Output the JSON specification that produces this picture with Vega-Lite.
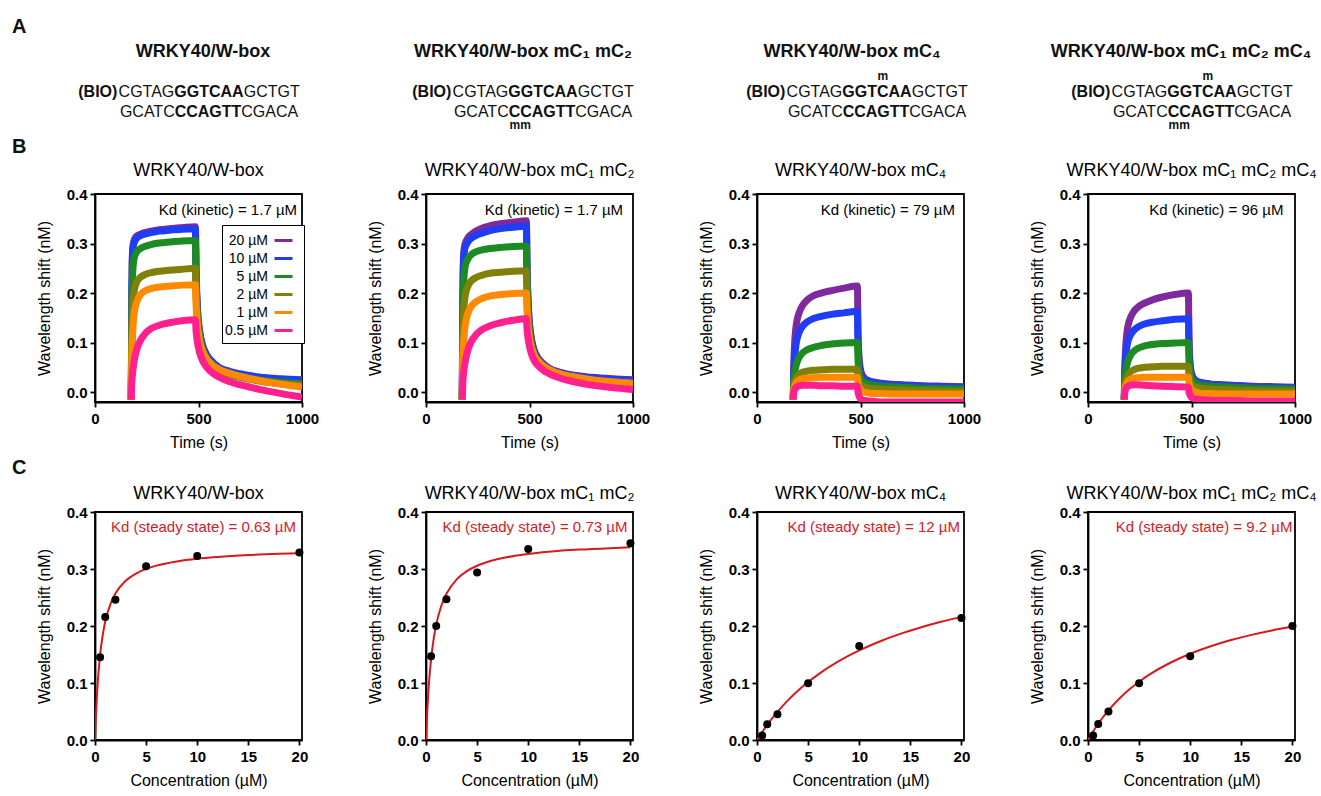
{
"$schema":"https://vega.github.io/schema/vega-lite/v6.json",
"padding":{"left":12,"top":17,"right":0,"bottom":0},
"config":{
"font":"Liberation Sans",
"view":{"stroke":"black","strokeWidth":1.8},
"axis":{"grid":false,"domainColor":"black","domainWidth":1.8,"tickColor":"black","tickWidth":1.8,"tickSize":5,"labelFontSize":15,"labelFontWeight":"bold","labelColor":"black","labelFlush":false,"labelOverlap":false,"titleFontSize":16,"titleFontWeight":"normal","titleColor":"black"},
"axisX":{"labelPadding":4,"titlePadding":8},
"axisY":{"labelPadding":3,"titlePadding":14},
"title":{"fontSize":18,"fontWeight":"normal","color":"black"}
},
"datasets":{
"rowA":[
{"p":"p1","title":"WRKY40/W-box","s1":"(BIO)","s2":"CGTAG","s3":"GGTCAA","s4":"GCTGT","t1":"GCATC","t2":"CCAGTT","t3":"CGACA","mtop":"","mbot":""},
{"p":"p2","title":"WRKY40/W-box mC₁ mC₂","s1":"(BIO)","s2":"CGTAG","s3":"GGTCAA","s4":"GCTGT","t1":"GCATC","t2":"CCAGTT","t3":"CGACA","mtop":"","mbot":"mm"},
{"p":"p3","title":"WRKY40/W-box mC₄","s1":"(BIO)","s2":"CGTAG","s3":"GGTCAA","s4":"GCTGT","t1":"GCATC","t2":"CCAGTT","t3":"CGACA","mtop":"m","mbot":""},
{"p":"p4","title":"WRKY40/W-box mC₁ mC₂ mC₄","s1":"(BIO)","s2":"CGTAG","s3":"GGTCAA","s4":"GCTGT","t1":"GCATC","t2":"CCAGTT","t3":"CGACA","mtop":"m","mbot":"mm"}
],
"kin":[
{"p":"B1","c":"20 µM","t":[175,178,182,188,195,205,220,240,270,310,360,420,485,488,495,505,520,540,570,600,650,700,800,900,1000],"y":[-0.015,0.2,0.29,0.305,0.312,0.316,0.319,0.322,0.325,0.328,0.33,0.332,0.334,0.25,0.165,0.12,0.09,0.072,0.058,0.048,0.04,0.035,0.028,0.025,0.023]},
{"p":"B1","c":"10 µM","t":[175,178,182,188,195,205,220,240,270,310,360,420,485,488,495,505,520,540,570,600,650,700,800,900,1000],"y":[-0.015,0.19,0.285,0.3,0.307,0.312,0.316,0.319,0.322,0.325,0.327,0.329,0.33,0.25,0.17,0.125,0.095,0.075,0.06,0.05,0.042,0.037,0.03,0.027,0.025]},
{"p":"B1","c":"5 µM","t":[175,178,182,188,195,205,220,240,270,310,360,420,485,488,495,505,520,540,570,600,650,700,800,900,1000],"y":[-0.015,0.15,0.24,0.268,0.278,0.285,0.29,0.294,0.298,0.301,0.303,0.305,0.306,0.23,0.155,0.115,0.085,0.068,0.053,0.044,0.036,0.031,0.024,0.02,0.017]},
{"p":"B1","c":"2 µM","t":[175,178,182,188,195,205,220,240,270,310,360,420,485,488,495,505,520,540,570,600,650,700,800,900,1000],"y":[-0.015,0.1,0.17,0.2,0.215,0.225,0.232,0.237,0.241,0.244,0.246,0.248,0.25,0.2,0.14,0.105,0.08,0.063,0.05,0.042,0.035,0.03,0.022,0.017,0.014]},
{"p":"B1","c":"1 µM","t":[175,178,182,188,195,205,220,240,270,310,360,420,485,488,495,505,520,540,570,600,650,700,800,900,1000],"y":[-0.015,0.07,0.12,0.155,0.172,0.186,0.197,0.204,0.209,0.212,0.214,0.216,0.217,0.18,0.135,0.105,0.083,0.067,0.054,0.046,0.038,0.032,0.023,0.016,0.01]},
{"p":"B1","c":"0.5 µM","t":[175,178,182,188,195,205,220,240,270,310,360,420,485,488,495,505,520,540,570,600,650,700,800,900,1000],"y":[-0.015,0.02,0.04,0.06,0.075,0.09,0.105,0.117,0.128,0.135,0.14,0.144,0.146,0.125,0.1,0.08,0.063,0.05,0.038,0.03,0.021,0.015,0.005,-0.003,-0.01]},
{"p":"B2","c":"20 µM","t":[175,178,182,188,195,205,220,240,270,310,360,420,485,488,495,505,520,540,570,600,650,700,800,900,1000],"y":[-0.015,0.19,0.28,0.298,0.306,0.313,0.319,0.325,0.331,0.336,0.34,0.343,0.346,0.26,0.17,0.12,0.088,0.07,0.056,0.047,0.04,0.035,0.03,0.027,0.025]},
{"p":"B2","c":"10 µM","t":[175,178,182,188,195,205,220,240,270,310,360,420,485,488,495,505,520,540,570,600,650,700,800,900,1000],"y":[-0.015,0.18,0.27,0.29,0.298,0.305,0.311,0.316,0.321,0.326,0.33,0.333,0.335,0.25,0.165,0.117,0.086,0.068,0.055,0.046,0.039,0.034,0.029,0.026,0.024]},
{"p":"B2","c":"5 µM","t":[175,178,182,188,195,205,220,240,270,310,360,420,485,488,495,505,520,540,570,600,650,700,800,900,1000],"y":[-0.015,0.14,0.22,0.25,0.262,0.271,0.278,0.283,0.287,0.29,0.292,0.294,0.295,0.22,0.15,0.108,0.08,0.063,0.05,0.042,0.035,0.03,0.024,0.02,0.017]},
{"p":"B2","c":"2 µM","t":[175,178,182,188,195,205,220,240,270,310,360,420,485,488,495,505,520,540,570,600,650,700,800,900,1000],"y":[-0.015,0.1,0.16,0.19,0.205,0.216,0.225,0.231,0.236,0.24,0.242,0.244,0.245,0.19,0.135,0.1,0.076,0.061,0.049,0.041,0.034,0.029,0.022,0.018,0.015]},
{"p":"B2","c":"1 µM","t":[175,178,182,188,195,205,220,240,270,310,360,420,485,488,495,505,520,540,570,600,650,700,800,900,1000],"y":[-0.015,0.06,0.1,0.13,0.148,0.162,0.174,0.182,0.189,0.194,0.197,0.199,0.2,0.165,0.125,0.098,0.078,0.064,0.052,0.045,0.037,0.032,0.025,0.021,0.018]},
{"p":"B2","c":"0.5 µM","t":[175,178,182,188,195,205,220,240,270,310,360,420,485,488,495,505,520,540,570,600,650,700,800,900,1000],"y":[-0.015,0.02,0.04,0.058,0.073,0.088,0.103,0.115,0.126,0.134,0.14,0.145,0.148,0.128,0.103,0.083,0.066,0.054,0.043,0.036,0.028,0.022,0.014,0.009,0.005]},
{"p":"B3","c":"20 µM","t":[175,178,182,188,195,205,220,240,270,310,360,420,485,488,495,505,520,540,570,600,650,700,800,900,1000],"y":[-0.015,0.06,0.1,0.13,0.148,0.162,0.175,0.185,0.194,0.2,0.205,0.21,0.214,0.12,0.06,0.038,0.028,0.023,0.02,0.018,0.016,0.015,0.013,0.012,0.011]},
{"p":"B3","c":"10 µM","t":[175,178,182,188,195,205,220,240,270,310,360,420,485,488,495,505,520,540,570,600,650,700,800,900,1000],"y":[-0.015,0.04,0.07,0.095,0.11,0.122,0.133,0.141,0.148,0.153,0.157,0.16,0.163,0.1,0.05,0.034,0.026,0.022,0.019,0.017,0.015,0.014,0.012,0.011,0.01]},
{"p":"B3","c":"5 µM","t":[175,178,182,188,195,205,220,240,270,310,360,420,485,488,495,505,520,540,570,600,650,700,800,900,1000],"y":[-0.015,0.02,0.038,0.052,0.062,0.071,0.079,0.085,0.09,0.094,0.097,0.099,0.1,0.065,0.035,0.025,0.019,0.016,0.014,0.012,0.011,0.01,0.008,0.007,0.006]},
{"p":"B3","c":"2 µM","t":[175,178,182,188,195,205,220,240,270,310,360,420,485,488,495,505,520,540,570,600,650,700,800,900,1000],"y":[-0.015,0.01,0.02,0.027,0.032,0.036,0.04,0.042,0.044,0.045,0.046,0.046,0.046,0.03,0.018,0.013,0.01,0.008,0.007,0.006,0.005,0.004,0.003,0.002,0.001]},
{"p":"B3","c":"1 µM","t":[175,178,182,188,195,205,220,240,270,310,360,420,485,488,495,505,520,540,570,600,650,700,800,900,1000],"y":[-0.015,0.005,0.012,0.018,0.022,0.025,0.027,0.028,0.029,0.03,0.03,0.03,0.03,0.018,0.008,0.003,0.0,-0.002,-0.003,-0.003,-0.004,-0.004,-0.004,-0.004,-0.004]},
{"p":"B3","c":"0.5 µM","t":[175,178,182,188,195,205,220,240,270,310,360,420,485,488,495,505,520,540,570,600,650,700,800,900,1000],"y":[-0.015,0.0,0.005,0.009,0.011,0.013,0.014,0.014,0.014,0.013,0.013,0.012,0.012,0.0,-0.01,-0.015,-0.017,-0.018,-0.019,-0.02,-0.02,-0.02,-0.02,-0.02,-0.02]},
{"p":"B4","c":"20 µM","t":[175,178,182,188,195,205,220,240,270,310,360,420,485,488,495,505,520,540,570,600,650,700,800,900,1000],"y":[-0.015,0.05,0.09,0.12,0.137,0.15,0.162,0.171,0.179,0.186,0.192,0.197,0.2,0.11,0.05,0.032,0.024,0.02,0.018,0.016,0.015,0.014,0.012,0.011,0.01]},
{"p":"B4","c":"10 µM","t":[175,178,182,188,195,205,220,240,270,310,360,420,485,488,495,505,520,540,570,600,650,700,800,900,1000],"y":[-0.015,0.04,0.07,0.092,0.105,0.115,0.124,0.131,0.137,0.141,0.144,0.147,0.148,0.09,0.045,0.03,0.023,0.019,0.017,0.015,0.014,0.013,0.011,0.01,0.009]},
{"p":"B4","c":"5 µM","t":[175,178,182,188,195,205,220,240,270,310,360,420,485,488,495,505,520,540,570,600,650,700,800,900,1000],"y":[-0.015,0.02,0.04,0.055,0.065,0.074,0.082,0.088,0.093,0.096,0.098,0.099,0.1,0.062,0.033,0.023,0.018,0.015,0.013,0.012,0.011,0.01,0.008,0.007,0.006]},
{"p":"B4","c":"2 µM","t":[175,178,182,188,195,205,220,240,270,310,360,420,485,488,495,505,520,540,570,600,650,700,800,900,1000],"y":[-0.015,0.01,0.022,0.03,0.036,0.041,0.045,0.048,0.05,0.051,0.052,0.052,0.052,0.032,0.018,0.013,0.01,0.008,0.007,0.006,0.005,0.004,0.003,0.002,0.002]},
{"p":"B4","c":"1 µM","t":[175,178,182,188,195,205,220,240,270,310,360,420,485,488,495,505,520,540,570,600,650,700,800,900,1000],"y":[-0.015,0.005,0.013,0.019,0.023,0.026,0.028,0.029,0.03,0.03,0.03,0.03,0.03,0.018,0.008,0.003,0.0,-0.002,-0.003,-0.003,-0.004,-0.004,-0.004,-0.004,-0.004]},
{"p":"B4","c":"0.5 µM","t":[175,178,182,188,195,205,220,240,270,310,360,420,485,488,495,505,520,540,570,600,650,700,800,900,1000],"y":[-0.015,0.0,0.006,0.01,0.012,0.014,0.015,0.015,0.014,0.013,0.012,0.011,0.01,0.0,-0.008,-0.012,-0.014,-0.015,-0.016,-0.017,-0.017,-0.017,-0.018,-0.018,-0.018]}
],
"pts":[
{"p":"C1","x":[0.5,1,2,5,10,20],"y":[0.145,0.216,0.246,0.305,0.323,0.329]},
{"p":"C2","x":[0.5,1,2,5,10,20],"y":[0.147,0.2,0.247,0.294,0.335,0.345]},
{"p":"C3","x":[0.5,1,2,5,10,20],"y":[0.008,0.0275,0.045,0.0995,0.165,0.214]},
{"p":"C4","x":[0.5,1,2,5,10,20],"y":[0.008,0.028,0.05,0.0995,0.147,0.2]}
],
"fit":[
{"p":"C1","x":[0,0.05,0.1,0.2,0.3,0.5,0.75,1,1.5,2,3,4,5,6,8,10,12,15,18,20],"y":[0,0.0249,0.0463,0.0814,0.109,0.1496,0.1837,0.2074,0.238,0.257,0.2793,0.292,0.3002,0.3059,0.3133,0.318,0.3211,0.3244,0.3266,0.3277]},
{"p":"C2","x":[0,0.05,0.1,0.2,0.3,0.5,0.75,1,1.5,2,3,4,5,6,8,10,12,15,18,20],"y":[0,0.0225,0.0422,0.0753,0.102,0.1424,0.1775,0.2025,0.2356,0.2566,0.2817,0.2962,0.3057,0.3123,0.321,0.3265,0.3302,0.334,0.3366,0.338]},
{"p":"C3","x":[0,0.5,1,2,3,4,5,6,8,10,12,14,16,18,20],"y":[0,0.0138,0.0266,0.0494,0.0691,0.0864,0.1016,0.1152,0.1382,0.1571,0.1728,0.1861,0.1975,0.2074,0.216]},
{"p":"C4","x":[0,0.5,1,2,3,4,5,6,8,10,12,14,16,18,20],"y":[0,0.015,0.0285,0.0519,0.0714,0.088,0.1023,0.1147,0.1351,0.1513,0.1644,0.1753,0.1844,0.1922,0.199]}
]
},
"columns":4,
"spacing":{"row":110,"column":124},
"bounds":"flush",
"resolve":{"scale":{"color":"independent"},"legend":{"color":"independent"}},
"concat":[
{"width":207,"height":44,"view":{"stroke":null},"data":{"name":"rowA"},"transform":[{"filter":{"field":"p","equal":"p1"}}],
"encoding":{"x":{"datum":114,"type":"quantitative","scale":{"domain":[0,207],"nice":false,"zero":false},"axis":null}},
"layer":[
{"mark":{"type":"text","align":"center","baseline":"alphabetic","dx":-6,"fontSize":18,"fontWeight":"bold","color":"#111"},"encoding":{"y":{"datum":17,"type":"quantitative","scale":{"domain":[0,44],"reverse":true,"nice":false,"zero":false},"axis":null},"text":{"field":"title"}}},
{"mark":{"type":"text","align":"right","baseline":"alphabetic","dx":-91.6,"fontSize":16,"fontWeight":"bold","color":"#111"},"encoding":{"y":{"datum":57,"type":"quantitative","axis":null},"text":{"field":"s1"}}},
{"mark":{"type":"text","align":"right","baseline":"alphabetic","dx":-34.7,"fontSize":16,"color":"#111"},"encoding":{"y":{"datum":57,"type":"quantitative","axis":null},"text":{"field":"s2"}}},
{"mark":{"type":"text","align":"center","baseline":"alphabetic","dx":0,"fontSize":16,"fontWeight":"bold","color":"#111"},"encoding":{"y":{"datum":57,"type":"quantitative","axis":null},"text":{"field":"s3"}}},
{"mark":{"type":"text","align":"left","baseline":"alphabetic","dx":34.7,"fontSize":16,"color":"#111"},"encoding":{"y":{"datum":57,"type":"quantitative","axis":null},"text":{"field":"s4"}}},
{"mark":{"type":"text","align":"right","baseline":"alphabetic","dx":-34.3,"fontSize":16,"color":"#111"},"encoding":{"y":{"datum":77,"type":"quantitative","axis":null},"text":{"field":"t1"}}},
{"mark":{"type":"text","align":"center","baseline":"alphabetic","dx":-1,"fontSize":16,"fontWeight":"bold","color":"#111"},"encoding":{"y":{"datum":77,"type":"quantitative","axis":null},"text":{"field":"t2"}}},
{"mark":{"type":"text","align":"left","baseline":"alphabetic","dx":32.3,"fontSize":16,"color":"#111"},"encoding":{"y":{"datum":77,"type":"quantitative","axis":null},"text":{"field":"t3"}}},
{"mark":{"type":"text","align":"left","baseline":"alphabetic","dx":-197,"fontSize":20,"fontWeight":"bold","color":"#111"},"encoding":{"y":{"datum":-7,"type":"quantitative","axis":null},"text":{"value":"A"}}},
{"mark":{"type":"text","align":"left","baseline":"alphabetic","dx":-197,"fontSize":20,"fontWeight":"bold","color":"#111"},"encoding":{"y":{"datum":113,"type":"quantitative","axis":null},"text":{"value":"B"}}},
{"mark":{"type":"text","align":"left","baseline":"alphabetic","dx":-197,"fontSize":20,"fontWeight":"bold","color":"#111"},"encoding":{"y":{"datum":434,"type":"quantitative","axis":null},"text":{"value":"C"}}}
]},
{"width":207,"height":44,"view":{"stroke":null},"data":{"name":"rowA"},"transform":[{"filter":{"field":"p","equal":"p2"}}],
"encoding":{"x":{"datum":117,"type":"quantitative","scale":{"domain":[0,207],"nice":false,"zero":false},"axis":null}},
"layer":[
{"mark":{"type":"text","align":"center","baseline":"alphabetic","dx":-20,"fontSize":18,"fontWeight":"bold","color":"#111"},"encoding":{"y":{"datum":17,"type":"quantitative","scale":{"domain":[0,44],"reverse":true,"nice":false,"zero":false},"axis":null},"text":{"field":"title"}}},
{"mark":{"type":"text","align":"right","baseline":"alphabetic","dx":-91.6,"fontSize":16,"fontWeight":"bold","color":"#111"},"encoding":{"y":{"datum":57,"type":"quantitative","axis":null},"text":{"field":"s1"}}},
{"mark":{"type":"text","align":"right","baseline":"alphabetic","dx":-34.7,"fontSize":16,"color":"#111"},"encoding":{"y":{"datum":57,"type":"quantitative","axis":null},"text":{"field":"s2"}}},
{"mark":{"type":"text","align":"center","baseline":"alphabetic","dx":0,"fontSize":16,"fontWeight":"bold","color":"#111"},"encoding":{"y":{"datum":57,"type":"quantitative","axis":null},"text":{"field":"s3"}}},
{"mark":{"type":"text","align":"left","baseline":"alphabetic","dx":34.7,"fontSize":16,"color":"#111"},"encoding":{"y":{"datum":57,"type":"quantitative","axis":null},"text":{"field":"s4"}}},
{"mark":{"type":"text","align":"right","baseline":"alphabetic","dx":-34.3,"fontSize":16,"color":"#111"},"encoding":{"y":{"datum":77,"type":"quantitative","axis":null},"text":{"field":"t1"}}},
{"mark":{"type":"text","align":"center","baseline":"alphabetic","dx":-1,"fontSize":16,"fontWeight":"bold","color":"#111"},"encoding":{"y":{"datum":77,"type":"quantitative","axis":null},"text":{"field":"t2"}}},
{"mark":{"type":"text","align":"left","baseline":"alphabetic","dx":32.3,"fontSize":16,"color":"#111"},"encoding":{"y":{"datum":77,"type":"quantitative","axis":null},"text":{"field":"t3"}}},
{"mark":{"type":"text","align":"center","baseline":"alphabetic","dx":-22.8,"fontSize":12,"fontWeight":"bold","color":"#111"},"encoding":{"y":{"datum":89,"type":"quantitative","axis":null},"text":{"field":"mbot"}}}
]},
{"width":207,"height":44,"view":{"stroke":null},"data":{"name":"rowA"},"transform":[{"filter":{"field":"p","equal":"p3"}}],
"encoding":{"x":{"datum":120,"type":"quantitative","scale":{"domain":[0,207],"nice":false,"zero":false},"axis":null}},
"layer":[
{"mark":{"type":"text","align":"center","baseline":"alphabetic","dx":-25,"fontSize":18,"fontWeight":"bold","color":"#111"},"encoding":{"y":{"datum":17,"type":"quantitative","scale":{"domain":[0,44],"reverse":true,"nice":false,"zero":false},"axis":null},"text":{"field":"title"}}},
{"mark":{"type":"text","align":"right","baseline":"alphabetic","dx":-91.6,"fontSize":16,"fontWeight":"bold","color":"#111"},"encoding":{"y":{"datum":57,"type":"quantitative","axis":null},"text":{"field":"s1"}}},
{"mark":{"type":"text","align":"right","baseline":"alphabetic","dx":-34.7,"fontSize":16,"color":"#111"},"encoding":{"y":{"datum":57,"type":"quantitative","axis":null},"text":{"field":"s2"}}},
{"mark":{"type":"text","align":"center","baseline":"alphabetic","dx":0,"fontSize":16,"fontWeight":"bold","color":"#111"},"encoding":{"y":{"datum":57,"type":"quantitative","axis":null},"text":{"field":"s3"}}},
{"mark":{"type":"text","align":"left","baseline":"alphabetic","dx":34.7,"fontSize":16,"color":"#111"},"encoding":{"y":{"datum":57,"type":"quantitative","axis":null},"text":{"field":"s4"}}},
{"mark":{"type":"text","align":"right","baseline":"alphabetic","dx":-34.3,"fontSize":16,"color":"#111"},"encoding":{"y":{"datum":77,"type":"quantitative","axis":null},"text":{"field":"t1"}}},
{"mark":{"type":"text","align":"center","baseline":"alphabetic","dx":-1,"fontSize":16,"fontWeight":"bold","color":"#111"},"encoding":{"y":{"datum":77,"type":"quantitative","axis":null},"text":{"field":"t2"}}},
{"mark":{"type":"text","align":"left","baseline":"alphabetic","dx":32.3,"fontSize":16,"color":"#111"},"encoding":{"y":{"datum":77,"type":"quantitative","axis":null},"text":{"field":"t3"}}},
{"mark":{"type":"text","align":"center","baseline":"alphabetic","dx":5.8,"fontSize":12,"fontWeight":"bold","color":"#111"},"encoding":{"y":{"datum":40,"type":"quantitative","axis":null},"text":{"field":"mtop"}}}
]},
{"width":207,"height":44,"view":{"stroke":null},"data":{"name":"rowA"},"transform":[{"filter":{"field":"p","equal":"p4"}}],
"encoding":{"x":{"datum":114,"type":"quantitative","scale":{"domain":[0,207],"nice":false,"zero":false},"axis":null}},
"layer":[
{"mark":{"type":"text","align":"center","baseline":"alphabetic","dx":-21,"fontSize":18,"fontWeight":"bold","color":"#111"},"encoding":{"y":{"datum":17,"type":"quantitative","scale":{"domain":[0,44],"reverse":true,"nice":false,"zero":false},"axis":null},"text":{"field":"title"}}},
{"mark":{"type":"text","align":"right","baseline":"alphabetic","dx":-91.6,"fontSize":16,"fontWeight":"bold","color":"#111"},"encoding":{"y":{"datum":57,"type":"quantitative","axis":null},"text":{"field":"s1"}}},
{"mark":{"type":"text","align":"right","baseline":"alphabetic","dx":-34.7,"fontSize":16,"color":"#111"},"encoding":{"y":{"datum":57,"type":"quantitative","axis":null},"text":{"field":"s2"}}},
{"mark":{"type":"text","align":"center","baseline":"alphabetic","dx":0,"fontSize":16,"fontWeight":"bold","color":"#111"},"encoding":{"y":{"datum":57,"type":"quantitative","axis":null},"text":{"field":"s3"}}},
{"mark":{"type":"text","align":"left","baseline":"alphabetic","dx":34.7,"fontSize":16,"color":"#111"},"encoding":{"y":{"datum":57,"type":"quantitative","axis":null},"text":{"field":"s4"}}},
{"mark":{"type":"text","align":"right","baseline":"alphabetic","dx":-34.3,"fontSize":16,"color":"#111"},"encoding":{"y":{"datum":77,"type":"quantitative","axis":null},"text":{"field":"t1"}}},
{"mark":{"type":"text","align":"center","baseline":"alphabetic","dx":-1,"fontSize":16,"fontWeight":"bold","color":"#111"},"encoding":{"y":{"datum":77,"type":"quantitative","axis":null},"text":{"field":"t2"}}},
{"mark":{"type":"text","align":"left","baseline":"alphabetic","dx":32.3,"fontSize":16,"color":"#111"},"encoding":{"y":{"datum":77,"type":"quantitative","axis":null},"text":{"field":"t3"}}},
{"mark":{"type":"text","align":"center","baseline":"alphabetic","dx":5.8,"fontSize":12,"fontWeight":"bold","color":"#111"},"encoding":{"y":{"datum":40,"type":"quantitative","axis":null},"text":{"field":"mtop"}}},
{"mark":{"type":"text","align":"center","baseline":"alphabetic","dx":-22.8,"fontSize":12,"fontWeight":"bold","color":"#111"},"encoding":{"y":{"datum":89,"type":"quantitative","axis":null},"text":{"field":"mbot"}}}
]},
{"width":207,"height":208,"title":{"text":"WRKY40/W-box","offset":7},
"layer":[
{"data":{"name":"kin"},"transform":[{"filter":{"field":"p","equal":"B1"}},{"flatten":["t","y"]}],
"mark":{"type":"line","strokeWidth":7,"clip":true,"interpolate":"monotone"},
"encoding":{"x":{"field":"t","type":"quantitative","scale":{"domain":[0,1000],"nice":false},"axis":{"values":[0,500,1000],"format":"d","title":"Time (s)"}},
"y":{"field":"y","type":"quantitative","scale":{"domain":[-0.02,0.4],"nice":false,"zero":false},"axis":{"values":[0,0.1,0.2,0.3,0.4],"format":".1f","title":"Wavelength shift (nM)"}},
"color":{"field":"c","type":"nominal","scale":{"domain":["20 µM","10 µM","5 µM","2 µM","1 µM","0.5 µM"],"range":["#7D2A9E","#1F3DF5","#1E8A22","#80800A","#FF8A00","#FF1F8E"]},
"legend":{"title":null,"orient":"none","legendX":127,"legendY":31,"strokeColor":"black","fillColor":"white","padding":5,"labelFontSize":14,"labelFontWeight":"normal","labelColor":"black","labelAlign":"right","labelOffset":-26,"symbolOffset":46,"symbolType":"stroke","symbolStrokeWidth":3,"symbolSize":324,"rowPadding":0}}}},
{"data":{"values":[{}]},"mark":{"type":"text","align":"right","baseline":"alphabetic","fontSize":15,"color":"black"},"encoding":{"x":{"datum":976},"y":{"datum":0.358},"text":{"value":"Kd (kinetic) = 1.7 µM"}}}
]},
{"width":207,"height":208,"title":{"text":"WRKY40/W-box mC₁ mC₂","offset":7},
"layer":[
{"data":{"name":"kin"},"transform":[{"filter":{"field":"p","equal":"B2"}},{"flatten":["t","y"]}],
"mark":{"type":"line","strokeWidth":7,"clip":true,"interpolate":"monotone"},
"encoding":{"x":{"field":"t","type":"quantitative","scale":{"domain":[0,1000],"nice":false},"axis":{"values":[0,500,1000],"format":"d","title":"Time (s)"}},
"y":{"field":"y","type":"quantitative","scale":{"domain":[-0.02,0.4],"nice":false,"zero":false},"axis":{"values":[0,0.1,0.2,0.3,0.4],"format":".1f","title":"Wavelength shift (nM)"}},
"color":{"field":"c","type":"nominal","scale":{"domain":["20 µM","10 µM","5 µM","2 µM","1 µM","0.5 µM"],"range":["#7D2A9E","#1F3DF5","#1E8A22","#80800A","#FF8A00","#FF1F8E"]},"legend":null}}},
{"data":{"values":[{}]},"mark":{"type":"text","align":"right","baseline":"alphabetic","fontSize":15,"color":"black"},"encoding":{"x":{"datum":952},"y":{"datum":0.358},"text":{"value":"Kd (kinetic) = 1.7 µM"}}}
]},
{"width":207,"height":208,"title":{"text":"WRKY40/W-box mC₄","offset":7},
"layer":[
{"data":{"name":"kin"},"transform":[{"filter":{"field":"p","equal":"B3"}},{"flatten":["t","y"]}],
"mark":{"type":"line","strokeWidth":7,"clip":true,"interpolate":"monotone"},
"encoding":{"x":{"field":"t","type":"quantitative","scale":{"domain":[0,1000],"nice":false},"axis":{"values":[0,500,1000],"format":"d","title":"Time (s)"}},
"y":{"field":"y","type":"quantitative","scale":{"domain":[-0.02,0.4],"nice":false,"zero":false},"axis":{"values":[0,0.1,0.2,0.3,0.4],"format":".1f","title":"Wavelength shift (nM)"}},
"color":{"field":"c","type":"nominal","scale":{"domain":["20 µM","10 µM","5 µM","2 µM","1 µM","0.5 µM"],"range":["#7D2A9E","#1F3DF5","#1E8A22","#80800A","#FF8A00","#FF1F8E"]},"legend":null}}},
{"data":{"values":[{}]},"mark":{"type":"text","align":"right","baseline":"alphabetic","fontSize":15,"color":"black"},"encoding":{"x":{"datum":956},"y":{"datum":0.358},"text":{"value":"Kd (kinetic) = 79 µM"}}}
]},
{"width":207,"height":208,"title":{"text":"WRKY40/W-box mC₁ mC₂ mC₄","offset":7},
"layer":[
{"data":{"name":"kin"},"transform":[{"filter":{"field":"p","equal":"B4"}},{"flatten":["t","y"]}],
"mark":{"type":"line","strokeWidth":7,"clip":true,"interpolate":"monotone"},
"encoding":{"x":{"field":"t","type":"quantitative","scale":{"domain":[0,1000],"nice":false},"axis":{"values":[0,500,1000],"format":"d","title":"Time (s)"}},
"y":{"field":"y","type":"quantitative","scale":{"domain":[-0.02,0.4],"nice":false,"zero":false},"axis":{"values":[0,0.1,0.2,0.3,0.4],"format":".1f","title":"Wavelength shift (nM)"}},
"color":{"field":"c","type":"nominal","scale":{"domain":["20 µM","10 µM","5 µM","2 µM","1 µM","0.5 µM"],"range":["#7D2A9E","#1F3DF5","#1E8A22","#80800A","#FF8A00","#FF1F8E"]},"legend":null}}},
{"data":{"values":[{}]},"mark":{"type":"text","align":"right","baseline":"alphabetic","fontSize":15,"color":"black"},"encoding":{"x":{"datum":944},"y":{"datum":0.358},"text":{"value":"Kd (kinetic) = 96 µM"}}}
]},
{"width":207,"height":228,"title":{"text":"WRKY40/W-box","offset":2},
"layer":[
{"data":{"name":"fit"},"transform":[{"filter":{"field":"p","equal":"C1"}},{"flatten":["x","y"]}],"mark":{"type":"line","color":"#D7191C","strokeWidth":2,"interpolate":"monotone","clip":true},
"encoding":{"x":{"field":"x","type":"quantitative","scale":{"domain":[0,20.25],"nice":false},"axis":{"values":[0,5,10,15,20],"title":"Concentration (µM)"}},"y":{"field":"y","type":"quantitative","scale":{"domain":[0,0.4],"nice":false},"axis":{"values":[0,0.1,0.2,0.3,0.4],"format":".1f","title":"Wavelength shift (nM)"}}}},
{"data":{"name":"pts"},"transform":[{"filter":{"field":"p","equal":"C1"}},{"flatten":["x","y"]}],"mark":{"type":"circle","color":"black","opacity":1,"size":64},"encoding":{"x":{"field":"x","type":"quantitative"},"y":{"field":"y","type":"quantitative"}}},
{"data":{"values":[{}]},"mark":{"type":"text","align":"right","baseline":"alphabetic","fontSize":15,"color":"#D42027"},"encoding":{"x":{"datum":19.66},"y":{"datum":0.365},"text":{"value":"Kd (steady state) = 0.63 µM"}}}
]},
{"width":207,"height":228,"title":{"text":"WRKY40/W-box mC₁ mC₂","offset":2},
"layer":[
{"data":{"name":"fit"},"transform":[{"filter":{"field":"p","equal":"C2"}},{"flatten":["x","y"]}],"mark":{"type":"line","color":"#D7191C","strokeWidth":2,"interpolate":"monotone","clip":true},
"encoding":{"x":{"field":"x","type":"quantitative","scale":{"domain":[0,20.25],"nice":false},"axis":{"values":[0,5,10,15,20],"title":"Concentration (µM)"}},"y":{"field":"y","type":"quantitative","scale":{"domain":[0,0.4],"nice":false},"axis":{"values":[0,0.1,0.2,0.3,0.4],"format":".1f","title":"Wavelength shift (nM)"}}}},
{"data":{"name":"pts"},"transform":[{"filter":{"field":"p","equal":"C2"}},{"flatten":["x","y"]}],"mark":{"type":"circle","color":"black","opacity":1,"size":64},"encoding":{"x":{"field":"x","type":"quantitative"},"y":{"field":"y","type":"quantitative"}}},
{"data":{"values":[{}]},"mark":{"type":"text","align":"right","baseline":"alphabetic","fontSize":15,"color":"#D42027"},"encoding":{"x":{"datum":19.7},"y":{"datum":0.365},"text":{"value":"Kd (steady state) = 0.73 µM"}}}
]},
{"width":207,"height":228,"title":{"text":"WRKY40/W-box mC₄","offset":2},
"layer":[
{"data":{"name":"fit"},"transform":[{"filter":{"field":"p","equal":"C3"}},{"flatten":["x","y"]}],"mark":{"type":"line","color":"#D7191C","strokeWidth":2,"interpolate":"monotone","clip":true},
"encoding":{"x":{"field":"x","type":"quantitative","scale":{"domain":[0,20.25],"nice":false},"axis":{"values":[0,5,10,15,20],"title":"Concentration (µM)"}},"y":{"field":"y","type":"quantitative","scale":{"domain":[0,0.4],"nice":false},"axis":{"values":[0,0.1,0.2,0.3,0.4],"format":".1f","title":"Wavelength shift (nM)"}}}},
{"data":{"name":"pts"},"transform":[{"filter":{"field":"p","equal":"C3"}},{"flatten":["x","y"]}],"mark":{"type":"circle","color":"black","opacity":1,"size":64},"encoding":{"x":{"field":"x","type":"quantitative"},"y":{"field":"y","type":"quantitative"}}},
{"data":{"values":[{}]},"mark":{"type":"text","align":"right","baseline":"alphabetic","fontSize":15,"color":"#D42027"},"encoding":{"x":{"datum":19.85},"y":{"datum":0.365},"text":{"value":"Kd (steady state) = 12 µM"}}}
]},
{"width":207,"height":228,"title":{"text":"WRKY40/W-box mC₁ mC₂ mC₄","offset":2},
"layer":[
{"data":{"name":"fit"},"transform":[{"filter":{"field":"p","equal":"C4"}},{"flatten":["x","y"]}],"mark":{"type":"line","color":"#D7191C","strokeWidth":2,"interpolate":"monotone","clip":true},
"encoding":{"x":{"field":"x","type":"quantitative","scale":{"domain":[0,20.25],"nice":false},"axis":{"values":[0,5,10,15,20],"title":"Concentration (µM)"}},"y":{"field":"y","type":"quantitative","scale":{"domain":[0,0.4],"nice":false},"axis":{"values":[0,0.1,0.2,0.3,0.4],"format":".1f","title":"Wavelength shift (nM)"}}}},
{"data":{"name":"pts"},"transform":[{"filter":{"field":"p","equal":"C4"}},{"flatten":["x","y"]}],"mark":{"type":"circle","color":"black","opacity":1,"size":64},"encoding":{"x":{"field":"x","type":"quantitative"},"y":{"field":"y","type":"quantitative"}}},
{"data":{"values":[{}]},"mark":{"type":"text","align":"right","baseline":"alphabetic","fontSize":15,"color":"#D42027"},"encoding":{"x":{"datum":20.0},"y":{"datum":0.365},"text":{"value":"Kd (steady state) = 9.2 µM"}}}
]}
]
}
